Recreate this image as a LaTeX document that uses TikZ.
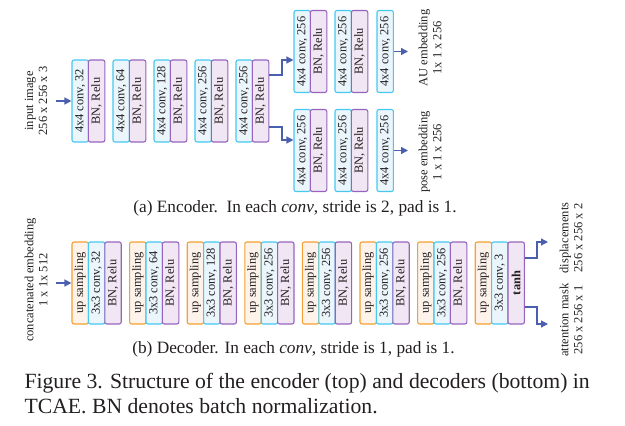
\documentclass[tikz,border=0pt]{standalone}
\usepackage{fontspec}
\setmainfont{Liberation Serif}
\usepackage{graphicx}
\usetikzlibrary{arrows.meta}
\definecolor{convline}{RGB}{70,200,240}
\definecolor{convfill}{RGB}{234,245,252}
\definecolor{bnline}{RGB}{150,100,190}
\definecolor{bnfill}{RGB}{241,230,243}
\definecolor{upline}{RGB}{245,160,50}
\definecolor{upfill}{RGB}{253,243,234}
\definecolor{arrowblue}{RGB}{75,95,175}
\definecolor{textdark}{RGB}{35,31,32}
\begin{document}
\begin{tikzpicture}[x=1pt,y=-1pt,
  box/.style={rounded corners=2pt,line width=1.1pt,minimum width=16.4pt,minimum height=82pt,
    inner sep=0pt,text=textdark,font=\fontsize{12.4}{13}\selectfont},
  conv/.style={box,draw=convline,fill=convfill},
  bn/.style={box,draw=bnline,fill=bnfill},
  up/.style={box,draw=upline,fill=upfill},
  arr/.style={-{Triangle[length=7pt,width=7pt]},line width=1.3pt,draw=arrowblue},
  lbl/.style={rotate=90,align=center,text=textdark,font=\fontsize{12.5}{14}\selectfont},
  subcap/.style={text=textdark,font=\fontsize{17.3}{19}\selectfont}]
\useasboundingbox (0,0) rectangle (625,426);
% encoder
\foreach \n/\c in {1/32,2/64,3/128,4/256,5/256}{
  \node[conv] (ec\n) at ({72+41*(\n-1)+8.2},101) {\rotatebox{90}{4x4 conv, \c}};
  \node[bn] (eb\n) at ({72+41*(\n-1)+24.6},101) {\rotatebox{90}{BN, Relu}};
}
\coordinate (ein) at (56,101);
\draw[arr] (ein) -- (ec1.west);
\node[lbl] (einlbl) at (36,101) {input image\\256 x 256 x 3};
% AU branch
\node[conv] (auc1) at (302.2,51.5) {\rotatebox{90}{4x4 conv, 256}};
\node[bn] (aub1) at (318.6,51.5) {\rotatebox{90}{BN, Relu}};
\node[conv] (auc2) at (343.2,51.5) {\rotatebox{90}{4x4 conv, 256}};
\node[bn] (aub2) at (359.6,51.5) {\rotatebox{90}{BN, Relu}};
\node[conv] (auc3) at (385.2,51.5) {\rotatebox{90}{4x4 conv, 256}};
% pose branch
\node[conv] (pc1) at (302.2,150.5) {\rotatebox{90}{4x4 conv, 256}};
\node[bn] (pb1) at (318.6,150.5) {\rotatebox{90}{BN, Relu}};
\node[conv] (pc2) at (343.2,150.5) {\rotatebox{90}{4x4 conv, 256}};
\node[bn] (pb2) at (359.6,150.5) {\rotatebox{90}{BN, Relu}};
\node[conv] (pc3) at (385.2,150.5) {\rotatebox{90}{4x4 conv, 256}};
\draw[arr] (eb5.east |- 0,75) -- (282,75) -- (282,60) -- (auc1.west |- 0,60);
\draw[arr] (eb5.east |- 0,127) -- (282,127) -- (282,140) -- (pc1.west |- 0,140);
\coordinate (auout) at (408,51.5);
\coordinate (pout) at (408,150.5);
\draw[arr] (auc3.east) -- (auout);
\draw[arr] (pc3.east) -- (pout);
\node[lbl] (aulbl) at (430,48) {AU embedding\\1x 1 x 256};
\node[lbl] (plbl) at (430,152) {pose embedding\\1 x 1 x 256};
\node[subcap] (capa) at (295,208) {(a) Encoder.\ \ In each \textit{conv}, stride is 2, pad is 1.};
% decoder
\foreach \n/\c in {1/32,2/64,3/128,4/256,5/256,6/256,7/256}{
  \node[up] (du\n) at ({72+57.6*(\n-1)+8.2},283) {\rotatebox{90}{up sampling}};
  \node[conv] (dc\n) at ({72+57.6*(\n-1)+24.6},283) {\rotatebox{90}{3x3 conv, \c}};
  \node[bn] (db\n) at ({72+57.6*(\n-1)+41},283) {\rotatebox{90}{BN, Relu}};
}
\node[up] (du8) at (483.4,283) {\rotatebox{90}{up sampling}};
\node[conv] (dc8) at (499.8,283) {\rotatebox{90}{3x3 conv, 3}};
\node[bn] (dt) at (516.2,283) {\rotatebox{90}{\textbf{tanh}}};
\coordinate (din) at (56,283);
\draw[arr] (din) -- (du1.west);
\node[lbl] (dinlbl) at (36,280) {concatenated embedding\\1 x 1x 512};
\coordinate (dispout) at (548,242);
\coordinate (maskout) at (548,324);
\draw[arr] (dt.east |- 0,258) -- (537,258) -- (537,242) -- (dispout);
\draw[arr] (dt.east |- 0,307) -- (537,307) -- (537,324) -- (maskout);
\node[lbl] (displbl) at (571,238) {displacements\\256 x 256 x 2};
\node[lbl] (masklbl) at (571,320) {attention mask\\256 x 256 x 1};
\node[subcap] (capb) at (293.5,349.5) {(b) Decoder. In each \textit{conv}, stride is 1, pad is 1.};
% figure caption
\node[anchor=base west,text=textdark,font=\fontsize{21.7}{24}\selectfont] (fig1) at (21,388)
  {Figure 3. Structure of the encoder (top) and decoders (bottom) in};
\node[anchor=base west,text=textdark,font=\fontsize{21.7}{24}\selectfont] (fig2) at (21,413)
  {TCAE. BN denotes batch normalization.};
\end{tikzpicture}
\end{document}
